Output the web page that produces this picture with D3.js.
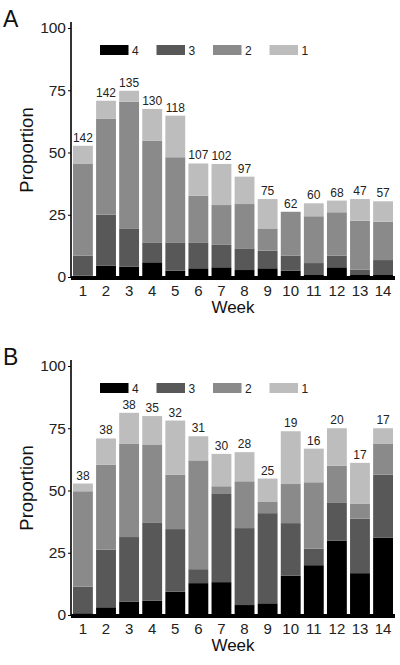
<!DOCTYPE html>
<html><head><meta charset="utf-8">
<script src="https://cdn.jsdelivr.net/npm/d3@7"></script>
<style>body{margin:0;background:#fff}svg{display:block}</style>
</head><body>
<script>
const weeks = ["1","2","3","4","5","6","7","8","9","10","11","12","13","14"];
const levels = ["4","3","2","1"];
const yTicks = [0,25,50,75,100];
// Panel A (proportions per level, stacked bottom->top: 4,3,2,1)
const a4 = [0.5,4.6,4.1,5.9,2.5,3.5,3.9,2.8,3.5,2.5,0.8,3.9,0.8,0.8];
const a3 = [8.1,20.4,15.2,8.0,11.4,10.4,9.0,8.7,7.1,6.1,4.8,4.7,2.1,6.0];
const a2 = [36.8,38.5,51.1,40.9,34.2,18.8,16.0,17.8,8.9,17.6,18.8,17.4,19.7,15.4];
const a1 = [7.3,7.3,4.4,12.7,16.7,12.9,16.5,11.0,11.8,0,5.2,4.7,8.7,8.2];
const aN = [142,142,135,130,118,107,102,97,75,62,60,68,47,57];
// Panel B
const b4 = [0.7,3.1,5.4,5.8,9.4,12.8,13.2,4.0,4.7,15.8,20.0,29.9,16.8,31.1];
const b3 = [10.7,23.1,25.9,31.4,25.1,5.6,35.4,30.9,36.2,21.1,6.6,15.1,21.9,25.3];
const b2 = [38.3,34.2,37.4,31.3,21.9,43.7,3.1,18.8,4.7,15.7,26.7,15.0,5.9,12.3];
const b1 = [3.1,10.5,12.5,11.4,21.7,9.7,13.0,11.7,9.2,21.2,13.5,15.0,16.5,6.3];
const bN = [38,38,38,35,32,31,30,28,25,19,16,20,17,17];

const colors = {"4":"#000000","3":"#585858","2":"#8a8a8a","1":"#bdbdbd"};
const W = 400, H = 665;
const svg = d3.select("body").append("svg").attr("width", W).attr("height", H)
  .style("font-family","'Liberation Sans', Arial, sans-serif");

function panel(letter, off, s4, s3, s2, s1, nArr) {
  const g = svg.append("g").attr("transform", `translate(0,${off})`);
  const y0 = 277, y100 = 28;
  const x = d3.scaleBand().domain(weeks).range([71, 395]).paddingInner(0.14).paddingOuter(0.087);
  const y = d3.scaleLinear().domain([0, 100]).range([y0, y100]);
  const rows = weeks.map((w, i) => ({week: w, "4": s4[i], "3": s3[i], "2": s2[i], "1": s1[i], n: nArr[i]}));
  const stack = d3.stack().keys(levels)(rows);
  g.selectAll("g.layer").data(stack).join("g").attr("class","layer")
    .attr("fill", d => colors[d.key])
    .selectAll("rect").data(d => d).join("rect")
    .attr("x", d => x(d.data.week)).attr("width", x.bandwidth())
    .attr("y", d => y(d[1])).attr("height", d => Math.max(0, y(d[0]) - y(d[1])));
  // count labels
  g.selectAll("text.n").data(rows).join("text").attr("class","n")
    .attr("x", d => x(d.week) + x.bandwidth()/2)
    .attr("y", d => y(d["4"]+d["3"]+d["2"]+d["1"]) - 4)
    .attr("text-anchor","middle")
    .style("font-family","'Liberation Sans Narrow', 'Liberation Sans', sans-serif")
    .style("font-stretch","condensed")
    .attr("font-size", 12).attr("fill","#222").text(d => d.n);
  // y axis
  const ya = g.append("g").attr("transform","translate(71,0)")
    .call(d3.axisLeft(y).tickValues(yTicks).tickSize(3).tickPadding(2));
  ya.select(".domain").attr("d", `M0,${y100-6}V${y0}`).attr("stroke","#000").attr("stroke-width",1.6);
  ya.selectAll(".tick line").attr("stroke","#000");
  ya.selectAll(".tick text").attr("font-size", 15.5).attr("fill","#222")
    .style("font-family","'Liberation Sans', Arial, sans-serif");
  // x axis
  const xa = g.append("g").attr("transform",`translate(0,${y0})`)
    .call(d3.axisBottom(x).tickSize(0).tickPadding(8));
  xa.select(".domain").remove();
  xa.selectAll(".tick text").attr("font-size", 15).attr("fill","#222")
    .style("font-family","'Liberation Sans', Arial, sans-serif");
  g.append("rect").attr("x", 71).attr("y", y0 - 1).attr("width", 324).attr("height", 4).attr("fill","#000");
  // axis titles
  g.append("text").attr("x", 233).attr("y", 313).attr("text-anchor","middle")
    .attr("font-size", 17).attr("fill","#111").text("Week");
  g.append("text").attr("transform","translate(33,150) rotate(-90)").attr("text-anchor","middle")
    .attr("font-size", 18.5).attr("fill","#111").text("Proportion");
  g.append("text").attr("x", 3).attr("y", 27).attr("font-size", 23).attr("fill","#111").text(letter);
  // legend
  const lg = g.append("g").attr("transform","translate(100,45)");
  const it = lg.selectAll("g").data(levels).join("g").attr("transform",(d,i)=>`translate(${i*56.5},0)`);
  it.append("rect").attr("width", 28.5).attr("height", 10).attr("fill", d => colors[d]);
  it.append("text").attr("x", 32).attr("y", 9.5).attr("font-size", 12).attr("fill","#222").text(d => d);
}
panel("A", 0, a4, a3, a2, a1, aN);
panel("B", 338, b4, b3, b2, b1, bN);
</script>
</body></html>
